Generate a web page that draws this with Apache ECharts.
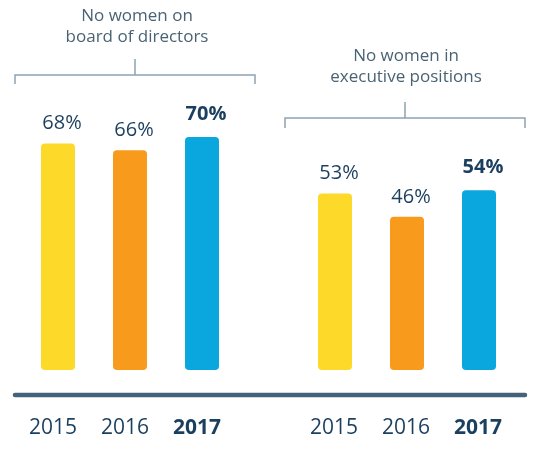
<!DOCTYPE html>
<html>
<head>
<meta charset="utf-8">
<script src="https://cdn.jsdelivr.net/npm/echarts@6/dist/echarts.min.js"></script>
<style>html,body{margin:0;padding:0;background:#fff}#c{width:546px;height:463px}</style>
</head>
<body>
<div id="c"></div>
<script>
const years = ['2015', '2016', '2017'];
const boardValues = [68, 66, 70];
const execValues = [53, 46, 54];
const groupTitles = [['No women on', 'board of directors'], ['No women in', 'executive positions']];
const barColors = ['#FDD92A', '#F89A1C', '#0AA6DE'];

const FONT = '"Open Sans", sans-serif';
const DARK = '#1b3f5e';

function seriesData(vals) {
  return vals.map((v, i) => ({
    value: v,
    itemStyle: { color: barColors[i] },
    label: { fontWeight: i === 2 ? 'bold' : 'normal', distance: i === 2 ? 13 : 10 }
  }));
}

function xAxis(gi, shift) {
  return {
    type: 'category', gridIndex: gi, data: years,
    axisLine: { show: false }, axisTick: { show: false },
    axisLabel: {
      interval: 0, margin: 48, fontFamily: FONT, fontSize: 21, color: DARK,
      padding: [0, shift, 0, 0],
      formatter: (v, i) => i === 2 ? '{b|' + v + '}' : '{n|' + v + '}',
      rich: {
        n: { fontFamily: FONT, fontSize: 21, color: DARK },
        b: { fontFamily: FONT, fontSize: 21, color: DARK, fontWeight: 'bold' }
      }
    }
  };
}
function yAxis(gi) {
  return { type: 'value', gridIndex: gi, min: 0, max: 100, show: false, splitLine: { show: false } };
}
function bar(gi, vals) {
  return {
    type: 'bar', xAxisIndex: gi, yAxisIndex: gi, barWidth: 34,
    data: seriesData(vals),
    itemStyle: { borderRadius: 4 },
    label: { show: true, position: 'top', distance: 10, offset: [4, 0], formatter: '{c}%', fontFamily: FONT, fontSize: 20, color: DARK }
  };
}

const BR = '#8ea3b1';
const option = {
  animation: false,
  grid: [
    { left: 22, width: 216, top: 37, bottom: 93 },
    { left: 299, width: 216, top: 37, bottom: 93 }
  ],
  xAxis: [xAxis(0, 10), xAxis(1, 2)],
  yAxis: [yAxis(0), yAxis(1)],
  series: [bar(0, boardValues), bar(1, execValues)],
  graphic: [
    { type: 'text', x: 137, y: 27, style: { text: groupTitles[0].join('\n'), fill: '#4a6374', font: '17px ' + FONT, align: 'center', verticalAlign: 'middle', lineHeight: 21 } },
    { type: 'text', x: 406, y: 67, style: { text: groupTitles[1].join('\n'), fill: '#4a6374', font: '17px ' + FONT, align: 'center', verticalAlign: 'middle', lineHeight: 21 } },
    { type: 'polyline', shape: { points: [[15, 84], [15, 75], [255, 75], [255, 84]] }, style: { stroke: BR, lineWidth: 1.5, fill: null } },
    { type: 'line', shape: { x1: 135, y1: 59, x2: 135, y2: 75 }, style: { stroke: BR, lineWidth: 1.5 } },
    { type: 'polyline', shape: { points: [[285, 128], [285, 118], [525, 118], [525, 128]] }, style: { stroke: BR, lineWidth: 1.5, fill: null } },
    { type: 'line', shape: { x1: 405, y1: 102, x2: 405, y2: 118 }, style: { stroke: BR, lineWidth: 1.5 } },
    { type: 'line', shape: { x1: 15, y1: 395, x2: 525, y2: 395 }, style: { stroke: '#43637c', lineWidth: 4.5, lineCap: 'round' } }
  ]
};
const chart = echarts.init(document.getElementById('c'), null, { renderer: 'canvas' });
chart.setOption(option);
</script>
</body>
</html>
